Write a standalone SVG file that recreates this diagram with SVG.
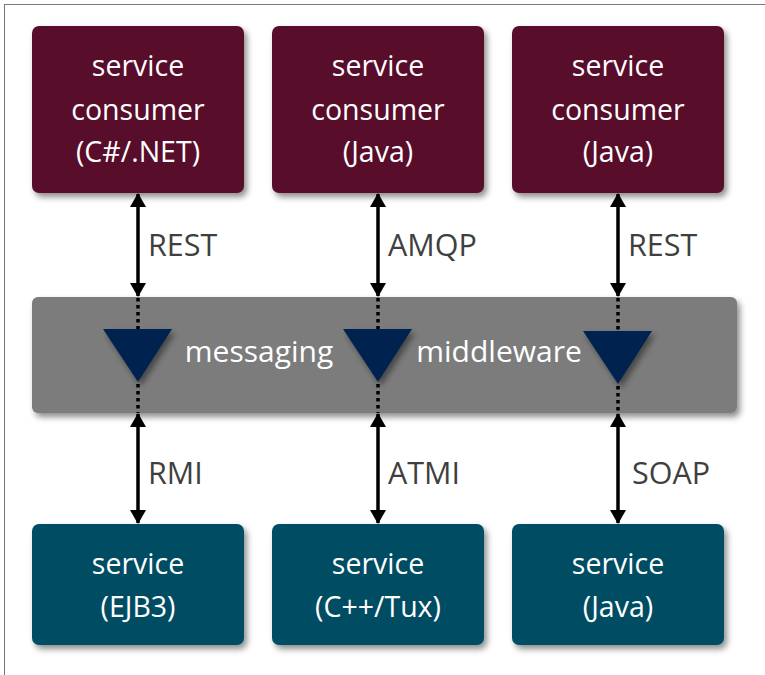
<svg xmlns="http://www.w3.org/2000/svg" width="765" height="675" viewBox="0 0 765 675">
<defs>
<filter id="sh" x="-10%" y="-10%" width="125%" height="130%">
<feDropShadow dx="3" dy="4" stdDeviation="3" flood-color="#000" flood-opacity="0.45"/>
</filter>
<marker id="ah" viewBox="0 0 14 16" refX="13" refY="8" markerWidth="14" markerHeight="16" markerUnits="userSpaceOnUse" orient="auto-start-reverse">
<path d="M0,0 L14,8 L0,16 Z" fill="#000"/>
</marker>
</defs>
<style>
.cons{fill:#58102a;filter:url(#sh)}
.svc{fill:#034d63;filter:url(#sh)}
.bar{fill:#7b7b7b;filter:url(#sh)}
.tri{fill:#00234f;filter:url(#sh)}
.bt{font-family:"Open Sans","Liberation Sans",sans-serif;font-size:28.5px;fill:#fff;text-anchor:middle}
.mw{font-size:30px}
.lb{font-family:"Open Sans","Liberation Sans",sans-serif;font-size:30.5px;fill:#3f3f3f}
.arr{stroke:#000;stroke-width:3.5;fill:none;marker-start:url(#ah);marker-end:url(#ah)}
.dot{stroke:#000;stroke-width:3.5;stroke-dasharray:3.5 3.5;fill:none}
</style>
<rect x="4.5" y="4.5" width="900" height="900" fill="#fff" stroke="#777" stroke-width="1"/>

<g id="middleware">
<rect class="bar" x="32" y="297" width="705" height="116" rx="6"/>
<text class="bt mw" x="259" y="362">messaging</text>
<text class="bt mw" x="499" y="362">middleware</text>
</g>

<g id="consumer1">
<rect class="cons" x="32" y="26" width="212" height="167" rx="7"/>
<text class="bt" x="138" y="76">service</text>
<text class="bt" x="138" y="120">consumer</text>
<text class="bt" x="138" y="162">(C#/.NET)</text>
</g>
<g id="consumer2">
<rect class="cons" x="272" y="26" width="212" height="167" rx="7"/>
<text class="bt" x="378" y="76">service</text>
<text class="bt" x="378" y="120">consumer</text>
<text class="bt" x="378" y="162">(Java)</text>
</g>
<g id="consumer3">
<rect class="cons" x="512" y="26" width="212" height="167" rx="7"/>
<text class="bt" x="618" y="76">service</text>
<text class="bt" x="618" y="120">consumer</text>
<text class="bt" x="618" y="162">(Java)</text>
</g>

<g id="service1">
<rect class="svc" x="32" y="524" width="212" height="121" rx="7"/>
<text class="bt" x="138" y="574">service</text>
<text class="bt" x="138" y="617">(EJB3)</text>
</g>
<g id="service2">
<rect class="svc" x="272" y="524" width="212" height="121" rx="7"/>
<text class="bt" x="378" y="574">service</text>
<text class="bt" x="378" y="617">(C++/Tux)</text>
</g>
<g id="service3">
<rect class="svc" x="512" y="524" width="212" height="121" rx="7"/>
<text class="bt" x="618" y="574">service</text>
<text class="bt" x="618" y="617">(Java)</text>
</g>

<g id="queue1"><path class="tri" d="M103,329 L172,329 L138,382 Z"/></g>
<g id="queue2"><path class="tri" d="M343,329 L412,329 L378,382 Z"/></g>
<g id="queue3"><path class="tri" d="M583,331 L652,331 L618,384 Z"/></g>

<g id="connectors">
<line class="arr" x1="138" y1="194" x2="138" y2="296"/>
<line class="arr" x1="378" y1="194" x2="378" y2="296"/>
<line class="arr" x1="618" y1="194" x2="618" y2="296"/>
<line class="arr" x1="138" y1="414" x2="138" y2="523"/>
<line class="arr" x1="378" y1="414" x2="378" y2="523"/>
<line class="arr" x1="618" y1="414" x2="618" y2="523"/>
<line class="dot" x1="138" y1="298" x2="138" y2="329"/>
<line class="dot" x1="378" y1="298" x2="378" y2="329"/>
<line class="dot" x1="618" y1="298" x2="618" y2="331"/>
<line class="dot" x1="138" y1="384" x2="138" y2="413"/>
<line class="dot" x1="378" y1="384" x2="378" y2="413"/>
<line class="dot" x1="618" y1="386" x2="618" y2="413"/>
<text class="lb" x="148" y="256">REST</text>
<text class="lb" x="388" y="256">AMQP</text>
<text class="lb" x="628" y="256">REST</text>
<text class="lb" x="148" y="484">RMI</text>
<text class="lb" x="388" y="484">ATMI</text>
<text class="lb" x="632" y="484">SOAP</text>
</g>
</svg>
